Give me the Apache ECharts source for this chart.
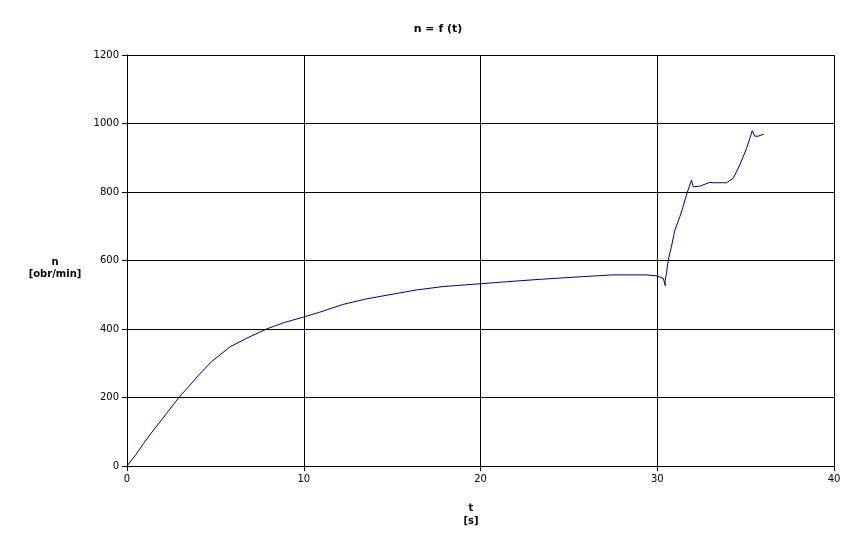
<!DOCTYPE html>
<html>
<head>
<meta charset="utf-8">
<script src="https://cdn.jsdelivr.net/npm/echarts@6/dist/echarts.min.js"></script>
<style>html,body{margin:0;padding:0;background:#fff}#c{width:866px;height:548px}</style>
</head>
<body>
<div id="c"></div>
<script>
var chartTitle = 'n = f (t)';
var xName = 't\n[s]';
var yName = 'n\n[obr/min]';
var tValues = [0,0.5,0.94,1.5,2.25,2.9,3.56,4.03,4.79,5.83,6.77,7.9,8.84,10.0,10.9,12.24,13.56,15.06,16.38,17.89,19.97,21.48,23.36,25.81,27.5,29.39,29.96,30.34,30.46,30.44,30.52,30.62,30.8,31.0,31.28,31.46,31.65,31.84,31.94,32.03,32.41,32.97,33.16,33.92,34.3,34.67,35.05,35.24,35.37,35.52,35.71,36.03];
var nValues = [0,33,66,105,154,198,236,264,305,348,373,400,418,435,449,472,488,502,514,524,532,538,545,553,558,558,555,548,526,540,562,601,640,689,728,757,791,820,835,815,817,828,827,827,840,879,927,957,979,963,963,969];
var xTicks = {min:0, max:40, interval:10};
var yTicks = {min:0, max:1200, interval:200};

var data = tValues.map(function(t,i){return [t, nValues[i]];});
var font = 'DejaVu Sans';
var chart = echarts.init(document.getElementById('c'), null, {renderer:'canvas'});
chart.setOption({
  animation:false,
  backgroundColor:'#fff',
  title:{text:chartTitle, left:433, top:19, textAlign:'center',
    textStyle:{fontFamily:font, fontSize:11, fontWeight:'bold', color:'#000'}},
  grid:{left:127, right:32, top:55, bottom:82, containLabel:false},
  xAxis:{type:'value', min:xTicks.min, max:xTicks.max, interval:xTicks.interval,
    axisLine:{show:true, onZero:false, lineStyle:{color:'#000', width:1}},
    axisTick:{show:true, inside:false, length:5, lineStyle:{color:'#000'}},
    axisLabel:{fontFamily:font, fontSize:10, color:'#000', margin:8, formatter:function(v){return String(v);}},
    splitLine:{show:true, lineStyle:{color:'#000', width:1}}},
  yAxis:{type:'value', min:yTicks.min, max:yTicks.max, interval:yTicks.interval,
    axisLine:{show:true, lineStyle:{color:'#000', width:1}},
    axisTick:{show:true, inside:false, length:5, lineStyle:{color:'#000'}},
    axisLabel:{fontFamily:font, fontSize:10, color:'#000', margin:8, formatter:function(v){return String(v);}},
    splitLine:{show:true, lineStyle:{color:'#000', width:1}}},
  graphic:[
    {type:'text', x:55, y:256, style:{text:yName, fontFamily:font, fontSize:10, fontWeight:'bold', fill:'#000', align:'center', lineHeight:12}},
    {type:'text', x:471, y:502, style:{text:xName, fontFamily:font, fontSize:10, fontWeight:'bold', fill:'#000', align:'center', lineHeight:13}}
  ],
  series:[{type:'line', data:data, showSymbol:false, symbol:'none',
    lineStyle:{color:'#000080', width:1}, smooth:false}]
});
</script>
</body>
</html>
